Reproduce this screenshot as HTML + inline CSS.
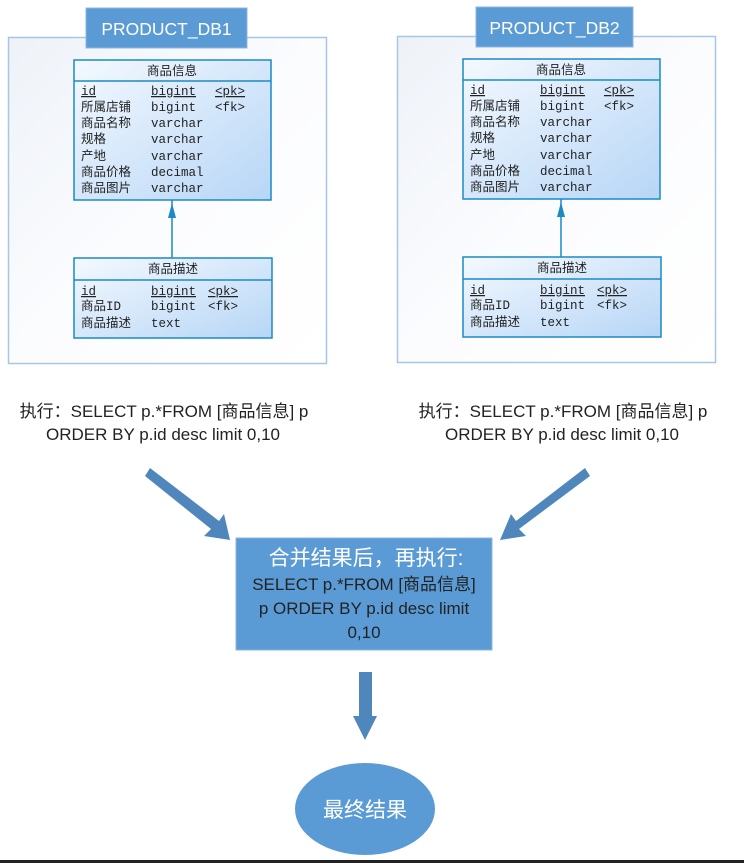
<!DOCTYPE html>
<html><head><meta charset="utf-8"><style>
html,body{margin:0;padding:0;background:#fff;}
svg{display:block;}
.m{font-family:"Liberation Mono","Noto Sans CJK SC",monospace;font-size:12.5px;fill:#222;}
.h{font-family:"Liberation Mono","Noto Sans CJK SC",monospace;font-size:12.5px;fill:#222;}
.s{font-family:"Liberation Sans","Noto Sans CJK SC",sans-serif;}
</style></head><body>
<svg width="744" height="863" viewBox="0 0 744 863" xmlns="http://www.w3.org/2000/svg">
<defs>
<linearGradient id="bg" x1="0" y1="0" x2="1" y2="1"><stop offset="0" stop-color="#eef2f8"/><stop offset="0.5" stop-color="#fbfcfe"/><stop offset="1" stop-color="#ffffff"/></linearGradient>
<linearGradient id="tb" x1="0" y1="0" x2="1" y2="1"><stop offset="0" stop-color="#f4f9ff"/><stop offset="1" stop-color="#b7d6f6"/></linearGradient>
<g id="db">
<rect x="0.5" y="37.5" width="318" height="326" fill="url(#bg)" stroke="#a8c6e4" stroke-width="1.5"/>
<rect x="66" y="60" width="197" height="140" fill="url(#tb)" stroke="#1b8ac6" stroke-width="1.5"/>
<line x1="66" y1="81" x2="263" y2="81" stroke="#1b8ac6" stroke-width="1.5"/>
<text class="h" x="164" y="75" text-anchor="middle">商品信息</text>
<text class="m" x="73" y="95" text-decoration="underline">id</text><text class="m" x="143" y="95" text-decoration="underline">bigint</text><text class="m" x="207" y="95" text-decoration="underline">&lt;pk&gt;</text>
<text class="m" x="73" y="111">所属店铺</text><text class="m" x="143" y="111">bigint</text><text class="m" x="207" y="111">&lt;fk&gt;</text>
<text class="m" x="73" y="127">商品名称</text><text class="m" x="143" y="127">varchar</text>
<text class="m" x="73" y="143">规格</text><text class="m" x="143" y="143">varchar</text>
<text class="m" x="73" y="160">产地</text><text class="m" x="143" y="160">varchar</text>
<text class="m" x="73" y="176">商品价格</text><text class="m" x="143" y="176">decimal</text>
<text class="m" x="73" y="192">商品图片</text><text class="m" x="143" y="192">varchar</text>
<line x1="164" y1="200" x2="164" y2="258" stroke="#1b8ac6" stroke-width="1.5"/>
<path d="M164 203 L160 218 L168 218 Z" fill="#1b8ac6"/>
<rect x="66" y="258" width="198" height="80" fill="url(#tb)" stroke="#1b8ac6" stroke-width="1.5"/>
<line x1="66" y1="280" x2="264" y2="280" stroke="#1b8ac6" stroke-width="1.5"/>
<text class="h" x="165" y="273" text-anchor="middle">商品描述</text>
<text class="m" x="73" y="295" text-decoration="underline">id</text><text class="m" x="143" y="295" text-decoration="underline">bigint</text><text class="m" x="200" y="295" text-decoration="underline">&lt;pk&gt;</text>
<text class="m" x="73" y="310">商品ID</text><text class="m" x="143" y="310">bigint</text><text class="m" x="200" y="310">&lt;fk&gt;</text>
<text class="m" x="73" y="327">商品描述</text><text class="m" x="143" y="327">text</text>
</g>
</defs>
<use href="#db" x="8" y="0"/>
<use href="#db" x="397" y="-1"/>
<rect x="86" y="8" width="161" height="40" fill="#5b9bd5" stroke="#8fb6df"/>
<text class="s" x="166.5" y="35" text-anchor="middle" font-size="17.5" fill="#fff">PRODUCT_DB1</text>
<rect x="476" y="7" width="157" height="40" fill="#5b9bd5" stroke="#8fb6df"/>
<text class="s" x="554.5" y="34" text-anchor="middle" font-size="17.5" fill="#fff">PRODUCT_DB2</text>
<g class="s" font-size="17" fill="#222" text-anchor="middle">
<text x="164" y="417">执行：SELECT p.*FROM [商品信息] p</text>
<text x="163" y="440">ORDER BY p.id desc limit 0,10</text>
<text x="563" y="417">执行：SELECT p.*FROM [商品信息] p</text>
<text x="562" y="440">ORDER BY p.id desc limit 0,10</text>
</g>
<path d="M145 476 L150 468 L219 521 L224 514 L230 540 L204 536 L211 529 Z" fill="#4f87bc"/>
<path d="M590 476 L585 468 L516 521 L511 514 L500 540 L526 536 L519 529 Z" fill="#4f87bc"/>
<rect x="236" y="538" width="256" height="112" fill="#5b9bd5" stroke="#8fb6df"/>
<text class="s" x="366" y="565" text-anchor="middle" font-size="21" fill="#fff">合并结果后，再执行:</text>
<g class="s" font-size="17" fill="#222" text-anchor="middle">
<text x="364" y="590">SELECT p.*FROM [商品信息]</text>
<text x="364" y="614">p ORDER BY p.id desc limit</text>
<text x="364" y="638">0,10</text>
</g>
<path d="M359 672 L372 672 L372 716 L377 716 L365 740 L353 716 L359 716 Z" fill="#4f87bc"/>
<ellipse cx="365" cy="809" rx="70" ry="46" fill="#5b9bd5"/>
<text class="s" x="365" y="817" text-anchor="middle" font-size="21" fill="#fff">最终结果</text>
<rect x="0" y="860" width="744" height="3" fill="#222"/>
</svg>
</body></html>
